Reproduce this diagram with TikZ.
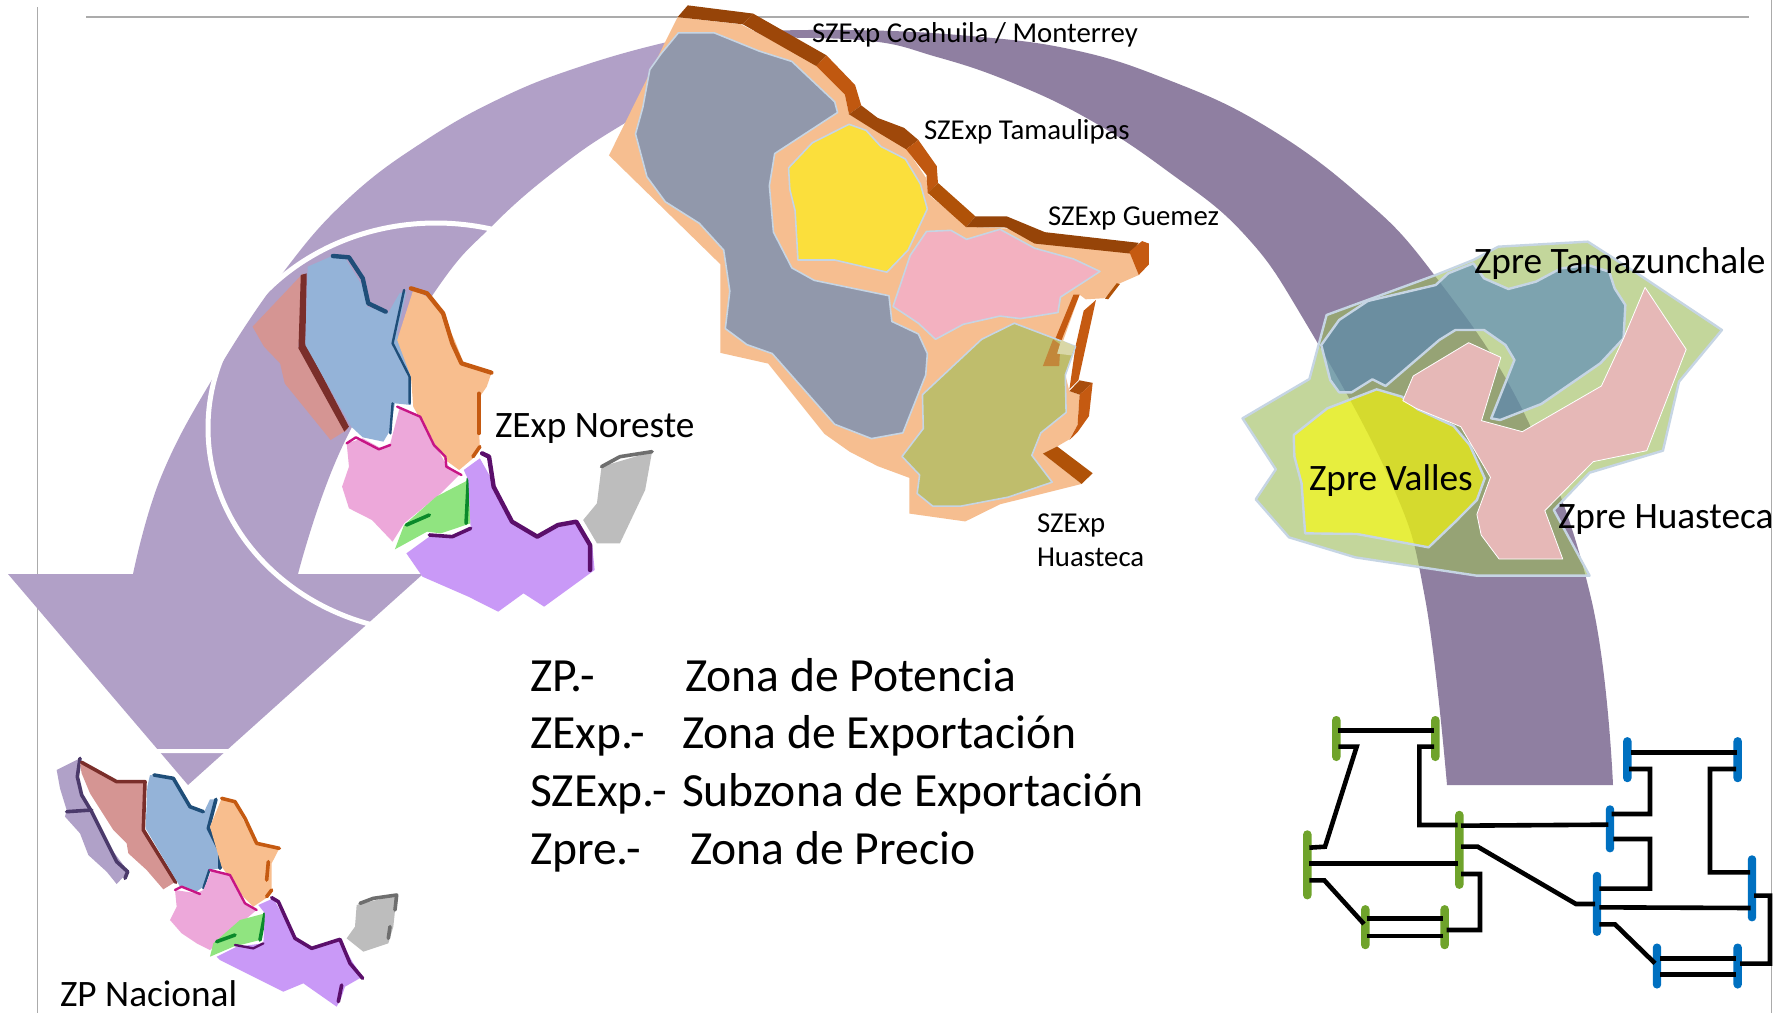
\documentclass[tikz,border=0pt]{standalone}
\usepackage{fontspec}
\setmainfont{Carlito}
\definecolor{lightarc}{HTML}{B1A0C7}
\definecolor{darkarc}{HTML}{8F7FA1}
\definecolor{framegrey}{HTML}{ABABAB}
\definecolor{basepeach}{HTML}{F6BE90}
\definecolor{bd}{HTML}{964408}
\definecolor{bm}{HTML}{B05208}
\definecolor{bo}{HTML}{C55A11}
\definecolor{gblue}{HTML}{9198AB}
\definecolor{gyellow}{HTML}{FBDF3C}
\definecolor{gpink}{HTML}{F3B1C0}
\definecolor{golive}{HTML}{BFBD6C}
\definecolor{edgeblue}{HTML}{C6D5E4}
\definecolor{zgreen}{HTML}{9BBB59}
\definecolor{zblue}{HTML}{4F81BD}
\definecolor{zyellow}{HTML}{FFFF00}
\definecolor{zpink}{HTML}{E6B8B7}
\definecolor{mbrick}{HTML}{D59593}
\definecolor{mbrickd}{HTML}{7A2E2A}
\definecolor{mblue}{HTML}{94B3D8}
\definecolor{mblued}{HTML}{1F4E79}
\definecolor{morange}{HTML}{F8BE8E}
\definecolor{mpink}{HTML}{EDA8DA}
\definecolor{mpinkd}{HTML}{C71585}
\definecolor{mgreen}{HTML}{90E480}
\definecolor{mgreend}{HTML}{0A8A2A}
\definecolor{mpurple}{HTML}{C999F7}
\definecolor{mpurpled}{HTML}{5B0F6B}
\definecolor{mgrey}{HTML}{BDBDBD}
\definecolor{mgreyd}{HTML}{6E6E6E}
\definecolor{mbaja}{HTML}{B0A1C8}
\definecolor{mbajad}{HTML}{4B3A6B}
\definecolor{busgreen}{HTML}{6FA32B}
\definecolor{busblue}{HTML}{0070C0}
\tikzset{
 lbl/.style={inner sep=0pt,outer sep=0pt,anchor=base west,align=left,text=black},
 small/.style={lbl,font=\fontsize{28.8}{34}\selectfont},
 mid/.style={lbl,font=\fontsize{37.3}{42}\selectfont},
 big/.style={lbl,font=\fontsize{47.6}{52}\selectfont},
 seam/.style={line width=1.6pt,draw=edgeblue,line join=round},
 zedge/.style={line width=2.4pt,draw=edgeblue,line join=round},
 mapline/.style={line width=3.6pt,line join=round,line cap=round},
 thinline/.style={line width=2.4pt},
 wire/.style={line width=4.6pt,draw=black,line join=miter},
 gbus/.style={draw=none,fill=busgreen,rounded corners=4pt,minimum width=8.4pt,inner sep=0pt,outer sep=0pt},
 bbus/.style={draw=none,fill=busblue,rounded corners=4pt,minimum width=8.4pt,inner sep=0pt,outer sep=0pt},
 frameline/.style={draw=framegrey,line width=1.2pt}
}
\newcommand{\pg}[2]{\path[#1] plot coordinates {#2} -- cycle;}
\newcommand{\ml}[2]{\draw[mapline,#1] plot coordinates {#2};}
\begin{document}
\begin{tikzpicture}[x=1pt,y=-1pt]
\useasboundingbox (0,0) rectangle (1791,1013);
\fill[white] (0,0) rectangle (1791,1013);
% frame
\draw[frameline,line width=2pt] (86,16.5) -- (1749,16.5);
\draw[frameline] (37.5,7) -- (37.5,1013);
\draw[frameline] (1771.7,0) -- (1771.7,1013);
% dark arc
\fill[darkarc] plot[smooth,tension=.7] coordinates {(720,32)(850,30)(970,36)(1074,50)(1166,79)(1262,124)(1357,193)(1432,272)(1525,415)(1591,598)(1613,785)}
 -- plot[smooth,tension=.7] coordinates {(1447,785)(1425,598)(1390,480)(1304,320)(1243,233)(1166,170)(1090,120)(1013,83)(937,57)(860,40)(720,38)} -- cycle;
% light arc
\fill[lightarc] plot[smooth,tension=.7] coordinates {(720,33)(663,43)(579,67)(503,97)(426,140)(350,197)(285,270)(216,373)(161,477)(133,574)}
 -- (8,574) -- (188,785) -- (423,574) -- plot[smooth,tension=.7] coordinates {(298,574)(344,443)(434,293)(493,225)(560,167)(625,123)(720,70)} -- cycle;
% circle and frame highlights
\draw[white,line width=5pt] (436,428) ellipse [x radius=228,y radius=205];
\draw[white,line width=4pt,rounded corners=30pt] (48,1040) -- (48,751) -- (402,751) -- (402,1040);
% central map
\begin{scope}[shift={(600,0)},xscale=.40816,yscale=.35714]
\pg{fill=basepeach}{(190,48)(345,68)(530,175)(600,265)(610,320)(750,415)(800,500)(805,545)(900,635)(1000,640)(1090,680)(1300,708)(1320,770)(1270,795)(1235,835)(1190,838)(1175,825)(1125,985)(1165,970)(1140,1050)(1150,1095)(1175,1105)(1170,1190)(1150,1230)(1120,1250)(1085,1270)(1180,1355)(980,1412)(895,1460)(758,1438)(758,1338)(680,1305)(612,1265)(550,1215)(412,1018)(295,988)(295,740)(22,435)}
\pg{fill=bd}{(190,48)(215,15)(375,38)(350,68)}
\pg{fill=bd!85!bo}{(350,68)(375,38)(555,155)(530,185)}
\pg{fill=bo!90!bd}{(530,185)(555,155)(625,238)(640,295)(610,320)(600,265)}
\pg{fill=bd!80!bo}{(610,320)(640,295)(680,330)(745,358)(780,392)(750,418)(680,370)}
\pg{fill=bo!90!bd}{(750,418)(780,392)(825,465)(828,512)(803,540)(800,490)}
\pg{fill=bm}{(803,540)(828,512)(920,606)(897,636)}
\pg{fill=bd}{(897,636)(920,606)(997,606)(1090,650)(1320,680)(1300,710)(1065,682)(995,637)}
\pg{fill=bo}{(1297,705)(1328,675)(1345,682)(1345,740)(1320,770)}
\pg{fill=bm}{(1237,836)(1266,793)(1274,795)(1245,838)}
\pg{fill=bo}{(1160,825)(1175,825)(1128,960)(1115,950)}
\pg{fill=bo}{(1185,870)(1215,840)(1172,1065)(1150,1090)(1165,970)}
\pg{fill=bd!60!bo}{(1150,1095)(1175,1065)(1207,1072)(1175,1105)}
\pg{fill=bo}{(1175,1105)(1207,1072)(1198,1165)(1170,1210)(1150,1232)(1170,1190)}
\pg{fill=bm}{(1085,1270)(1120,1250)(1207,1325)(1180,1355)}
\pg{fill=gblue,seam}{(192,92)(280,92)(390,143)(470,172)(575,285)(582,315)(428,430)(415,520)(425,650)(470,750)(525,785)(708,828)(715,900)(780,935)(802,990)(798,1050)(742,1212)(665,1228)(575,1188)(422,990)(360,965)(307,920)(318,815)(303,700)(243,625)(160,565)(115,495)(87,375)(105,300)(122,195)(150,150)}
\pg{fill=gyellow,seam}{(610,348)(652,365)(688,410)(748,445)(785,515)(802,585)(755,700)(703,762)(575,728)(485,728)(478,590)(465,530)(462,470)(520,400)}
\pg{fill=gpink,seam}{(800,648)(860,645)(898,670)(980,642)(1065,695)(1160,725)(1225,760)(1128,832)(1122,875)(1030,892)(980,885)(890,908)(822,950)(780,905)(718,858)(760,715)}
\pg{fill=golive,seam}{(1015,905)(1165,970)(1140,1050)(1142,1155)(1080,1212)(1058,1275)(1108,1350)(1000,1392)(885,1417)(815,1417)(777,1382)(783,1330)(740,1278)(792,1200)(790,1105)(935,950)}
\pg{fill=bo!55!golive}{(1085,1025)(1110,950)(1128,965)(1125,1025)}
\pg{fill=white!40!golive}{(1120,990)(1130,952)(1163,970)(1155,995)}
\end{scope}
% right map
\begin{scope}[shift={(1230,230)},xscale=.35778,yscale=.33333]
\path[fill=zgreen,fill opacity=.6,zedge] plot coordinates {(1000,35)(1145,135)(1375,300)(1255,455)(1210,662)(1005,728)(905,840)(1005,1037)(690,1037)(350,982)(165,922)(72,808)(128,718)(35,565)(222,447)(270,255)(575,135)(680,90)(750,50)} -- cycle;
\path[fill=zblue,fill opacity=.6,zedge] plot coordinates {(680,100)(710,145)(778,177)(855,155)(925,115)(1000,105)(1060,125)(1075,175)(1105,225)(1100,325)(1035,400)(870,522)(755,570)(730,565)(795,390)(770,345)(710,300)(630,300)(585,330)(435,468)(398,448)(340,487)(305,487)(280,450)(255,345)(305,270)(385,213)(575,165)(610,130)} -- cycle;
\path[fill=zyellow,fill opacity=.6,zedge] plot coordinates {(410,478)(480,500)(525,538)(625,588)(670,645)(712,745)(690,810)(630,875)(555,952)(355,912)(210,910)(200,760)(180,680)(178,615)(272,535)} -- cycle;
\pg{fill=zpink,draw=white,line width=.8pt,line join=round}{(667,338)(757,382)(703,572)(817,605)(1038,468)(1100,325)(1160,172)(1275,358)(1165,662)(1015,695)(880,842)(930,987)(752,987)(702,915)(690,853)(728,742)(645,590)(520,535)(483,512)(512,438)}
\end{scope}
% ZExp Noreste map
\begin{scope}[shift={(0,200)},xscale=.45918,yscale=.33333]
\pg{fill=mbrick}{(660,220)(550,380)(575,440)(610,490)(620,550)(720,720)(755,690)(650,440)}
\pg{fill=mbrickd}{(655,225)(668,220)(665,430)(760,680)(750,695)(650,445)}
\pg{fill=mblue}{(670,200)(720,170)(750,170)(790,260)(800,320)(845,340)(870,280)(885,275)(865,400)(895,530)(895,615)(860,610)(850,690)(835,725)(790,712)(765,680)(665,435)}
\ml{mblued,line width=4.4pt}{(725,168)(760,172)(790,235)(802,310)(840,335)}
\ml{mblued,thinline}{(880,270)(855,430)(892,530)(892,610)}
\ml{mblued,thinline}{(855,610)(850,700)}
\pg{fill=morange}{(900,270)(930,290)(960,340)(990,420)(1010,490)(1070,520)(1060,560)(1040,600)(1045,740)(1030,775)(1000,810)(970,780)(940,720)(900,620)(895,530)(865,420)}
\ml{bo,line width=4.4pt}{(895,265)(930,280)(965,340)(985,430)(1005,490)(1070,518)}
\ml{bo}{(1043,580)(1043,700)}
\ml{bo}{(1045,740)(1030,770)}
\pg{fill=mpink}{(870,625)(915,650)(970,790)(1000,825)(960,880)(880,970)(855,1025)(810,960)(760,925)(745,860)(760,800)(755,730)(790,715)(830,745)(850,730)}
\ml{mpinkd,thinline}{(755,730)(775,712)(825,748)(850,735)}
\ml{mpinkd,thinline}{(865,620)(915,650)(945,735)(970,770)(972,800)(1005,825)}
\pg{fill=mgreen}{(1020,840)(1025,970)(960,1000)(930,995)(860,1048)(880,975)(950,890)}
\ml{mgreend}{(1020,835)(1015,970)}
\ml{mgreend}{(885,975)(935,945)}
\pg{fill=mpurple}{(1045,775)(1080,860)(1120,970)(1170,1010)(1215,980)(1260,965)(1290,1040)(1295,1110)(1185,1220)(1140,1180)(1085,1235)(1020,1190)(920,1130)(885,1060)(940,1005)(985,1010)(1025,985)(1020,840)(1010,810)}
\ml{mpurpled,line width=4.4pt}{(1050,760)(1065,770)(1075,860)(1115,965)(1170,1010)(1215,975)(1255,965)(1285,1035)(1285,1110)}
\ml{mpurpled}{(935,1005)(985,1010)(1025,985)}
\pg{fill=mgrey}{(1310,800)(1420,755)(1405,870)(1350,1030)(1300,1030)(1270,960)(1300,910)}
\ml{mgreyd}{(1310,800)(1350,770)(1420,755)}
\end{scope}
% national map
\begin{scope}[shift={(0,730)},xscale=.33333,yscale=.33333]
\pg{fill=mbaja}{(170,120)(240,85)(230,140)(245,195)(275,245)(325,345)(385,425)(350,462)(320,425)(265,375)(240,310)(195,260)(200,240)(180,175)}
\ml{mbajad}{(240,85)(232,140)(245,195)(275,245)(325,345)(350,395)(383,425)(375,445)}
\ml{mbajad}{(200,245)(275,240)}
\pg{fill=mbrick}{(240,100)(350,155)(435,155)(435,300)(527,455)(490,478)(440,420)(385,370)(380,340)(340,300)(270,190)(245,130)}
\ml{mbrickd}{(245,97)(350,155)(435,155)(430,300)(527,457)}
\pg{fill=mblue}{(450,135)(520,145)(570,230)(610,250)(630,208)(650,208)(630,290)(662,380)(660,415)(630,420)(610,470)(590,485)(540,470)(437,295)(442,170)}
\ml{mblued}{(462,135)(520,145)(570,230)(610,245)}
\ml{mblued}{(648,208)(625,295)(660,365)(660,415)}
\ml{mblued,thinline}{(628,420)(610,475)}
\pg{fill=morange}{(665,205)(700,215)(730,270)(775,345)(838,355)(815,400)(815,480)(805,500)(760,530)(730,500)(665,410)(630,290)}
\ml{bo}{(665,205)(705,215)(735,265)(770,340)(838,355)}
\ml{bo}{(805,395)(800,450)}
\ml{bo}{(815,480)(800,500)}
\pg{fill=mpink}{(635,420)(690,435)(735,520)(770,540)(710,590)(630,660)(590,640)(545,610)(510,570)(530,530)(525,480)(590,490)(610,480)}
\ml{mpinkd,thinline}{(525,480)(545,470)(600,492)}
\ml{mpinkd,thinline}{(630,420)(690,435)(735,520)(770,540)}
\pg{fill=mgreen}{(795,550)(780,630)(700,650)(630,680)(640,640)(720,570)}
\ml{mgreend}{(795,550)(780,630)}
\ml{mgreend}{(650,635)(705,615)}
\pg{fill=mpurple}{(775,525)(820,505)(890,630)(935,655)(1020,630)(1060,700)(1088,740)(1035,770)(1025,800)(1010,830)(910,760)(850,785)(740,730)(660,690)(650,680)(710,650)(790,640)(795,550)}
\ml{mpurpled}{(815,503)(835,515)(885,625)(935,655)(1020,628)(1050,700)(1088,745)}
\ml{mpurpled}{(1025,765)(1015,815)}
\ml{mpurpled,thinline}{(705,645)(760,655)(790,640)}
\pg{fill=mgrey}{(1070,525)(1190,495)(1180,590)(1165,640)(1090,665)(1040,625)(1065,590)}
\ml{mgreyd}{(1080,520)(1120,505)(1190,495)(1185,540)}
\ml{mgreyd}{(1170,590)(1165,625)}
\end{scope}
% network
\begin{scope}[shift={(1290,700)},xscale=.33333,yscale=.33333]
\node[gbus,minimum height=45pt] (g1) at (139,115.5) {};
\node[gbus,minimum height=45pt] (g2) at (436,115.5) {};
\node[gbus,minimum height=69pt] (g3) at (52,494.5) {};
\node[gbus,minimum height=78pt] (g4) at (508,449.5) {};
\node[gbus,minimum height=44pt] (g5) at (226,681.5) {};
\node[gbus,minimum height=44pt] (g6) at (464,681.5) {};
\node[bbus,minimum height=45pt] (b1) at (1012,179) {};
\node[bbus,minimum height=45pt] (b2) at (1343,179) {};
\node[bbus,minimum height=47pt] (b3) at (960,386.5) {};
\node[bbus,minimum height=64pt] (b4) at (921,611.5) {};
\node[bbus,minimum height=66pt] (b5) at (1386,565) {};
\node[bbus,minimum height=45pt] (b6) at (1101,798) {};
\node[bbus,minimum height=45pt] (b7) at (1343,798) {};
\coordinate (a1) at (145,92); \coordinate (e1) at (432,92);
\coordinate (a2) at (145,140); \coordinate (e2) at (58,443);
\coordinate (a3) at (432,140); \coordinate (e3) at (503,375);
\coordinate (a4) at (58,491); \coordinate (e4) at (503,491);
\coordinate (a5) at (58,541); \coordinate (e5) at (222,672);
\coordinate (a6) at (230,656); \coordinate (e6) at (460,656);
\coordinate (a7) at (230,708); \coordinate (e7) at (460,708);
\coordinate (a8) at (513,522); \coordinate (e8) at (470,690);
\coordinate (a9) at (513,377); \coordinate (e9) at (955,374);
\coordinate (a10) at (513,440); \coordinate (e10) at (915,612);
\coordinate (a11) at (1022,157); \coordinate (e11) at (1340,157);
\coordinate (a12) at (1017,207); \coordinate (e12) at (965,342);
\coordinate (a13) at (970,417); \coordinate (e13) at (928,566);
\coordinate (a14) at (1338,207); \coordinate (e14) at (1380,517);
\coordinate (a15) at (928,622); \coordinate (e15) at (1382,624);
\coordinate (a16) at (1392,587); \coordinate (e16) at (1350,791);
\coordinate (a17) at (928,673); \coordinate (e17) at (1095,790);
\coordinate (a18) at (1110,775); \coordinate (e18) at (1338,775);
\coordinate (a19) at (1110,823); \coordinate (e19) at (1338,823);
\draw[wire] (a1) -- (e1);
\draw[wire] (a2) -- (200,140) -- (105,440) -- (e2);
\draw[wire] (a3) -- (388,140) -- (388,375) -- (e3);
\draw[wire] (a4) -- (e4);
\draw[wire] (a5) -- (103,541) -- (e5);
\draw[wire] (a6) -- (e6);
\draw[wire] (a7) -- (e7);
\draw[wire] (a8) -- (570,522) -- (570,690) -- (e8);
\draw[wire] (a9) -- (e9);
\draw[wire] (a10) -- (563,440) -- (858,612) -- (e10);
\draw[wire] (a11) -- (e11);
\draw[wire] (a12) -- (1080,207) -- (1080,342) -- (e12);
\draw[wire] (a13) -- (1080,417) -- (1080,566) -- (e13);
\draw[wire] (a14) -- (1260,207) -- (1260,517) -- (e14);
\draw[wire] (a15) -- (e15);
\draw[wire] (a16) -- (1440,587) -- (1440,791) -- (e16);
\draw[wire] (a17) -- (975,673) -- (e17);
\draw[wire] (a18) -- (e18);
\draw[wire] (a19) -- (e19);
\end{scope}
% labels
\node[small] (sz1) at (812,42) {SZExp Coahuila / Monterrey};
\node[small] (sz2) at (924,139) {SZExp Tamaulipas};
\node[small] (sz3) at (1048,225) {SZExp Guemez};
\node[small] (sz4) at (1037,532) {SZExp};
\node[small] (sz5) at (1037,566) {Huasteca};
\node[mid] (ze) at (495,437) {ZExp Noreste};
\node[mid] (zn) at (60,1006) {ZP Nacional};
\node[mid] (zt) at (1474,273) {Zpre Tamazunchale};
\node[mid] (zv) at (1309,490) {Zpre Valles};
\node[mid] (zh) at (1558,528) {Zpre Huasteca};
\node[big] (l1) at (530,691) {ZP.-};
\node[big] (l1b) at (685,691) {Zona de Potencia};
\node[big] (l2) at (530,748) {ZExp.-};
\node[big] (l2b) at (682,748) {Zona de Exportación};
\node[big] (l3) at (530,806) {SZExp.-};
\node[big] (l3b) at (682,806) {Subzona de Exportación};
\node[big] (l4) at (530,864) {Zpre.-};
\node[big] (l4b) at (690,864) {Zona de Precio};
\end{tikzpicture}
\end{document}
